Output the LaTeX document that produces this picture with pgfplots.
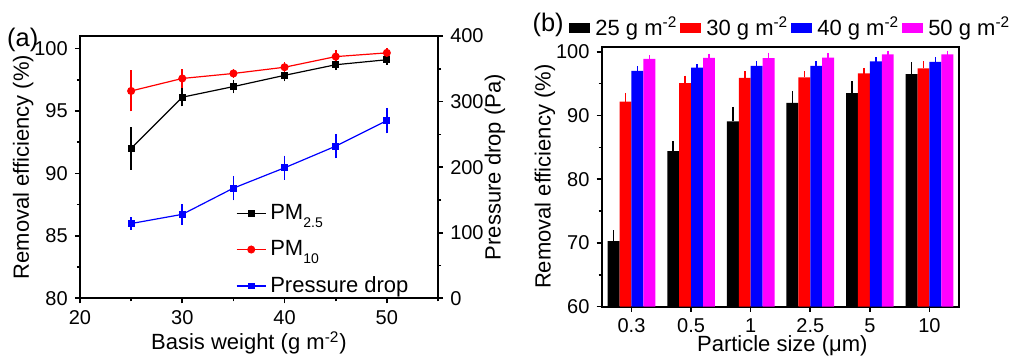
\documentclass[border=0pt]{standalone}
\usepackage{pgfplots}
\usepackage{pgfplotstable}
\pgfplotsset{compat=1.18}
\usepackage{fontspec}
\setmainfont{Liberation Sans}
\definecolor{mag}{RGB}{255,0,255}
\definecolor{rd}{RGB}{255,0,0}
\definecolor{bl}{RGB}{0,0,255}
\newcommand\lf{\fontsize{11}{13}\selectfont}
\newcommand\tf{\fontsize{10}{12}\selectfont}
\newcommand\pf{\fontsize{12.7}{14}\selectfont}
\newcommand\sub[1]{\raisebox{-4pt}{\fontsize{7}{8}\selectfont #1}}
\pgfplotsset{
  common/.style={scale only axis, clip=false, axis line style={line width=1pt},
    tick style={line width=0.8pt, black}, major tick length=2.6pt, minor tick length=1.6pt,
    tick align=outside, ticklabel style={font=\tf}, label style={font=\lf},
    /pgf/number format/assume math mode=true},
  mybar/.style={ybar, bar width=0.2, draw=none,
    legend image code/.code={\fill[##1] (0pt,-2.3pt) rectangle (10.5pt,2.3pt);}},
  myline/.style={legend image code/.code={\draw[mark repeat=2,mark phase=2,##1] plot coordinates {(0pt,0pt) (7.25pt,0pt) (14.5pt,0pt)};}},
  myerr/.style={draw=none, mark=none, forget plot,
    error bars/.cd, y dir=plus, y explicit,
    error bar style={draw=#1, line width=0.8pt},
    error mark options={draw=#1, line width=0.8pt, mark size=1.5pt}},
}
\pgfplotstableread{
x y e
0 70.3 1.2
1 84.4 1.1
2 89.1 1.8
3 92.0 1.4
4 93.5 1.4
5 96.5 1.4
}\tA
\pgfplotstableread{
x y e
0 92.2 0.9
1 95.1 0.7
2 95.9 0.6
3 96.0 0.5
4 96.6 0.4
5 97.4 0.7
}\tB
\pgfplotstableread{
x y e
0 97.0 0.3
1 97.5 0.1
2 97.8 0.3
3 97.8 0.3
4 98.5 0.15
5 98.4 0.3
}\tC
\pgfplotstableread{
x y e
0 98.9 0.1
1 99.05 0.2
2 99.0 0.4
3 99.1 0.2
4 99.6 0.1
5 99.6 0.1
}\tD
\begin{document}
\begin{tikzpicture}
\useasboundingbox (0pt,0pt) rectangle (504.5pt,181.5pt);
% ---------- panel (a), left axis
\begin{axis}[common, at={(40pt,32.35pt)}, anchor=south west, width=179pt, height=131.15pt,
  xmin=20, xmax=55, ymin=80, ymax=101,
  xtick={20,30,40,50}, minor xtick={25,35,45,55},
  ytick={80,85,...,100}, minor ytick={82.5,87.5,92.5,97.5},
  xtick pos=bottom, ytick pos=left,
  xlabel={Basis weight (g m\textsuperscript{-2})}, ylabel={Removal efficiency (\%)},
  xlabel style={at={(axis description cs:0.472,-0.17)}, anchor=center},
  ylabel style={at={(axis description cs:-0.159,0.5)}, anchor=center},
  legend style={at={(0.435,0.375)}, anchor=north west, draw=none, fill=none, font=\lf, row sep=5pt, inner sep=0pt},
  legend cell align=left]
\addplot[black, myline, line width=0.6pt, mark=square*, mark size=1.4pt,
  error bars/.cd, y dir=both, y explicit, error bar style={line width=0.8pt}, error mark options={line width=0.8pt, mark size=1.5pt}]
  table[y error=e] {
x y e
25 92.0 1.45
30 96.1 0.5
35 96.95 0.3
40 97.85 0.25
45 98.7 0.2
50 99.1 0.15
};
\addlegendentry{PM\sub{2.5}}
\addplot[rd, myline, line width=0.6pt, mark=*, mark size=1.7pt,
  error bars/.cd, y dir=both, y explicit, error bar style={line width=0.8pt}, error mark options={line width=0.8pt, mark size=1.5pt}]
  table[y error=e] {
x y e
25 96.6 1.4
30 97.6 0.5
35 98.0 0.12
40 98.5 0.15
45 99.35 0.3
50 99.65 0.12
};
\addlegendentry{PM\sub{10}}
\addlegendimage{bl, myline, line width=0.6pt, mark=square*, mark size=1.4pt}
\addlegendentry{Pressure drop}
\node[font=\pf] at (rel axis cs:-0.16,0.985) {(a)};
\end{axis}
% ---------- panel (a), right axis
\begin{axis}[common, at={(40pt,32.35pt)}, anchor=south west, width=179pt, height=131.15pt,
  xmin=20, xmax=55, ymin=0, ymax=400,
  axis x line=none, axis y line*=right,
  ytick={0,100,...,400}, minor ytick={50,150,250,350},
  ylabel={Pressure drop (Pa)},
  ylabel style={at={(axis description cs:1.159,0.5)}, anchor=center}]
\addplot[bl, line width=0.6pt, mark=square*, mark size=1.4pt,
  error bars/.cd, y dir=both, y explicit, error bar style={line width=0.8pt}, error mark options={line width=0.8pt, mark size=1.5pt}]
  table[y error=e] {
x y e
25 114 5
30 128 11
35 168 14
40 199 14
45 232 14
50 271 15
};
\end{axis}
% ---------- panel (b)
\begin{axis}[common, at={(300.85pt,28.15pt)}, anchor=south west, width=178.8pt, height=130pt,
  xmin=-0.5, xmax=5.5, ymin=60, ymax=100.8,
  xtick={0,...,5}, xticklabels={0.3,0.5,1,2.5,5,10},
  ytick={60,70,...,100}, minor ytick={65,75,85,95},
  xtick pos=bottom, ytick pos=left,
  xlabel={Particle size (μm)}, ylabel={Removal efficiency (\%)},
  xlabel style={at={(axis description cs:0.505,-0.15)}, anchor=center},
  ylabel style={at={(axis description cs:-0.1586,0.5)}, anchor=center},
  legend columns=4,
  legend style={at={(-0.0914,1.072)}, anchor=west, draw=none, fill=none, font=\lf, inner sep=0pt,
    nodes={inner sep=0pt},
    /tikz/every odd column/.style={column sep=2.5pt},
    /tikz/every even column/.style={column sep=1.5pt}}]
\addplot[mybar, bar shift=-0.3, fill=black] table {\tA};
\addlegendentry{25 g m\textsuperscript{-2}}
\addplot[mybar, bar shift=-0.1, fill=rd] table {\tB};
\addlegendentry{30 g m\textsuperscript{-2}}
\addplot[mybar, bar shift=0.1, fill=bl] table {\tC};
\addlegendentry{40 g m\textsuperscript{-2}}
\addplot[mybar, bar shift=0.3, fill=mag] table {\tD};
\addlegendentry{50 g m\textsuperscript{-2}}
\addplot[myerr=black] table[x expr=\thisrow{x}-0.3, y=y, y error=e] {\tA};
\addplot[myerr=rd] table[x expr=\thisrow{x}-0.1, y=y, y error=e] {\tB};
\addplot[myerr=bl] table[x expr=\thisrow{x}+0.1, y=y, y error=e] {\tC};
\addplot[myerr=mag] table[x expr=\thisrow{x}+0.3, y=y, y error=e] {\tD};
\node[font=\pf] at (rel axis cs:-0.15,1.083) {(b)};
\end{axis}
\end{tikzpicture}
\end{document}
